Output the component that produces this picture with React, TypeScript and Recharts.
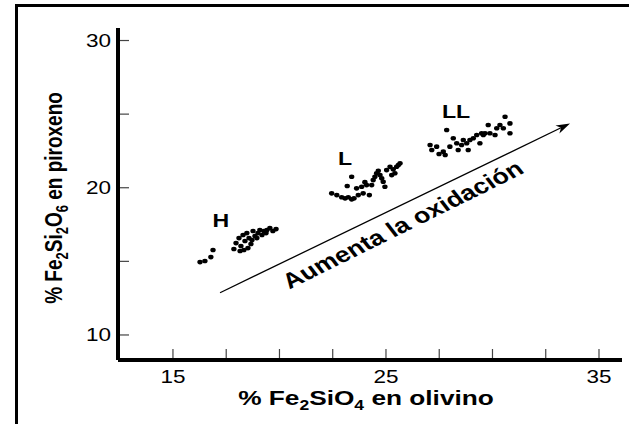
import React from 'react';
import { ScatterChart, Scatter, XAxis, YAxis, ReferenceLine } from 'recharts';

const xTicks = [15, 17.5, 20, 22.5, 25, 27.5, 30, 32.5, 35];
const xTickLabels = ['15', '', '', '', '25', '', '', '', '35'];
const yTicks = [10, 15, 20, 25, 30];
const yTickLabels = ['10', '', '20', '', '30'];

const hGroup = [
  { x: 16.27, y: 14.95 }, { x: 16.5, y: 15.02 }, { x: 16.78, y: 15.29 }, { x: 16.88, y: 15.77 },
  { x: 17.86, y: 15.84 }, { x: 17.96, y: 16.24 }, { x: 18.1, y: 16.58 }, { x: 18.19, y: 16.04 },
  { x: 18.29, y: 16.79 }, { x: 18.38, y: 16.38 }, { x: 18.47, y: 16.92 }, { x: 18.57, y: 16.58 },
  { x: 18.66, y: 16.18 }, { x: 18.76, y: 17.06 }, { x: 18.85, y: 16.72 }, { x: 18.99, y: 16.92 },
  { x: 19.08, y: 17.13 }, { x: 19.18, y: 16.79 }, { x: 19.27, y: 17.06 }, { x: 19.41, y: 17.13 },
  { x: 19.55, y: 17.26 }, { x: 19.69, y: 17.06 }, { x: 19.84, y: 17.19 }, { x: 18.52, y: 15.9 },
  { x: 18.15, y: 15.7 }, { x: 18.33, y: 15.77 }, { x: 18.71, y: 16.45 }, { x: 18.94, y: 16.58 },
  { x: 19.37, y: 16.92 },
];

const lGroup = [
  { x: 22.45, y: 19.62 }, { x: 22.69, y: 19.5 }, { x: 22.92, y: 19.35 }, { x: 23.08, y: 19.28 },
  { x: 23.23, y: 19.35 }, { x: 23.39, y: 19.21 }, { x: 23.5, y: 19.28 }, { x: 23.7, y: 19.5 },
  { x: 23.93, y: 19.62 }, { x: 24.22, y: 19.5 }, { x: 23.18, y: 20.12 }, { x: 23.39, y: 20.75 },
  { x: 23.62, y: 19.96 }, { x: 23.86, y: 20.07 }, { x: 24.09, y: 20.18 }, { x: 24.33, y: 20.18 },
  { x: 24.4, y: 20.52 }, { x: 24.48, y: 20.75 }, { x: 24.56, y: 20.98 }, { x: 24.64, y: 21.15 },
  { x: 24.72, y: 20.86 }, { x: 24.8, y: 20.64 }, { x: 24.87, y: 20.41 }, { x: 24.95, y: 20.07 },
  { x: 25.03, y: 21.2 }, { x: 25.19, y: 21.43 }, { x: 25.34, y: 21.25 }, { x: 25.5, y: 21.43 },
  { x: 25.58, y: 21.54 }, { x: 25.66, y: 21.66 }, { x: 25.42, y: 20.98 }, { x: 25.27, y: 20.86 },
  { x: 24.01, y: 20.38 },
];

const llGroup = [
  { x: 27.07, y: 22.9 }, { x: 27.15, y: 22.56 }, { x: 27.38, y: 22.79 }, { x: 27.49, y: 22.29 },
  { x: 27.69, y: 22.45 }, { x: 27.85, y: 23.92 }, { x: 28.0, y: 22.79 }, { x: 28.16, y: 23.36 },
  { x: 28.32, y: 23.02 }, { x: 28.39, y: 22.56 }, { x: 28.55, y: 22.9 }, { x: 28.63, y: 23.24 },
  { x: 28.79, y: 23.02 }, { x: 28.86, y: 22.56 }, { x: 28.94, y: 23.24 }, { x: 29.1, y: 23.36 },
  { x: 29.26, y: 23.58 }, { x: 29.41, y: 23.02 }, { x: 29.49, y: 23.7 }, { x: 29.57, y: 23.58 },
  { x: 29.65, y: 23.7 }, { x: 29.8, y: 24.26 }, { x: 29.88, y: 23.7 }, { x: 30.12, y: 23.58 },
  { x: 30.2, y: 24.04 }, { x: 30.35, y: 24.26 }, { x: 30.51, y: 24.04 }, { x: 30.59, y: 24.82 },
  { x: 30.82, y: 24.37 }, { x: 30.82, y: 23.7 }, { x: 27.78, y: 22.22 },
];

const groupNames = ['H', 'L', 'LL'];
const groupLabelX = [17.25, 23.08, 28.29];
const groupLabelY = [17.33, 21.54, 24.73];

const arrowStart = { x: 17.21, y: 12.87 };
const arrowEnd = { x: 33.64, y: 24.37 };
const arrowText = 'Aumenta la oxidación';
const arrowTextX = [26.01];
const arrowTextY = [17.07];

const FONT = '"Liberation Sans", Arial, Helvetica, sans-serif';
const SX = 1.25;

const groupLabelData = groupNames.map((name, i) => ({ x: groupLabelX[i], y: groupLabelY[i], name }));
const arrowTextData = arrowTextX.map((x, i) => ({ x, y: arrowTextY[i], name: arrowText }));

const Dot = (p: any) => <ellipse cx={p.cx} cy={p.cy} rx={2.7} ry={2.3} fill="#000" />;

const GroupLabel = (p: any) => (
  <g transform={`translate(${p.cx},${p.cy}) scale(${SX},1)`}>
    <text x={0} y={0} textAnchor="middle" fontFamily={FONT} fontWeight="bold" fontSize={18.5} fill="#000">
      {p.payload.name}
    </text>
  </g>
);

const ArrowLabel = (p: any) => (
  <g transform={`translate(${p.cx},${p.cy}) scale(${SX},1) rotate(-31.8)`}>
    <text x={0} y={0} textAnchor="middle" fontFamily={FONT} fontWeight="bold" fontSize={21.5} fill="#000">
      {p.payload.name}
    </text>
  </g>
);

const ArrowShape = (p: any) => {
  const { x1, y1, x2, y2 } = p;
  const dx = x2 - x1;
  const dy = y2 - y1;
  const len = Math.hypot(dx, dy) || 1;
  const ux = dx / len;
  const uy = dy / len;
  const L = 14;
  const W = 4.5;
  const bx = x2 - ux * L;
  const by = y2 - uy * L;
  const nx = bx + ux * 4;
  const ny = by + uy * 4;
  const pts = `${x2},${y2} ${bx - uy * W},${by + ux * W} ${nx},${ny} ${bx + uy * W},${by - ux * W}`;
  return (
    <g>
      <line x1={x1} y1={y1} x2={nx} y2={ny} stroke="#000" strokeWidth={1.3} />
      <polygon points={pts} fill="#000" />
    </g>
  );
};

const XTick = (p: any) => {
  const label = xTickLabels[p.index] ?? '';
  return (
    <g>
      <line x1={p.x} y1={p.y - 2} x2={p.x} y2={p.y - 11} stroke="#444" strokeWidth={1.2} />
      {label !== '' && (
        <g transform={`translate(${p.x},${p.y + 23}) scale(${SX},1)`}>
          <text x={0} y={0} textAnchor="middle" fontFamily={FONT} fontSize={18} fill="#000">
            {label}
          </text>
        </g>
      )}
    </g>
  );
};

const YTick = (p: any) => {
  const label = yTickLabels[p.index] ?? '';
  return (
    <g>
      <line x1={p.x + 2} y1={p.y} x2={p.x + 11} y2={p.y} stroke="#444" strokeWidth={1.2} />
      {label !== '' && (
        <g transform={`translate(${p.x - 7},${p.y + 6.5}) scale(${SX},1)`}>
          <text x={0} y={0} textAnchor="end" fontFamily={FONT} fontSize={18} fill="#000">
            {label}
          </text>
        </g>
      )}
    </g>
  );
};

const XTitle = (p: any) => {
  const vb = p.viewBox;
  const cx = vb.x + vb.width / 2 - 4;
  const cy = vb.y + 45;
  return (
    <g transform={`translate(${cx},${cy}) scale(${SX},1)`}>
      <text x={0} y={0} textAnchor="middle" fontFamily={FONT} fontWeight="bold" fontSize={21} fill="#000">
        % Fe<tspan dy={5} fontSize={14}>2</tspan>
        <tspan dy={-5}>SiO</tspan>
        <tspan dy={5} fontSize={14}>4</tspan>
        <tspan dy={-5}> en olivino</tspan>
      </text>
    </g>
  );
};

const YTitle = (p: any) => {
  const vb = p.viewBox;
  const cx = 62;
  const cy = vb.y + vb.height / 2 + 4;
  return (
    <g transform={`translate(${cx},${cy}) scale(${SX},1) rotate(-90)`}>
      <text x={0} y={0} textAnchor="middle" fontFamily={FONT} fontWeight="bold" fontSize={19} fill="#000">
        % Fe<tspan dy={4.5} fontSize={13}>2</tspan>
        <tspan dy={-4.5}>Si</tspan>
        <tspan dy={4.5} fontSize={13}>2</tspan>
        <tspan dy={-4.5}>O</tspan>
        <tspan dy={4.5} fontSize={13}>6</tspan>
        <tspan dy={-4.5}> en piroxeno</tspan>
      </text>
    </g>
  );
};

export default function App() {
  return (
    <div style={{ position: 'absolute', left: 0, top: 0, width: 629, height: 424, background: '#fff', overflow: 'hidden' }}>
      <div
        style={{
          position: 'absolute',
          left: 15,
          top: 4,
          width: 629,
          height: 424,
          borderTop: '3px solid #000',
          borderLeft: '3px solid #000',
          boxSizing: 'border-box',
        }}
      />
      <div style={{ position: 'absolute', left: 0, top: 0 }}>
        <ScatterChart width={629} height={424} margin={{ top: 28, right: 7, bottom: 0, left: 0 }}>
          <XAxis
            dataKey="x"
            type="number"
            domain={[12.42, 36.08]}
            allowDataOverflow
            ticks={xTicks}
            interval={0}
            tickSize={0}
            tickMargin={0}
            tickLine={false}
            tick={XTick}
            axisLine={{ stroke: '#000', strokeWidth: 4 }}
            height={64}
            label={{ content: XTitle }}
          />
          <YAxis
            dataKey="y"
            type="number"
            domain={[8.3, 30.85]}
            allowDataOverflow
            ticks={yTicks}
            interval={0}
            tickSize={0}
            tickMargin={0}
            tickLine={false}
            tick={YTick}
            axisLine={{ stroke: '#000', strokeWidth: 4 }}
            width={118}
            label={{ content: YTitle }}
          />
          <ReferenceLine segment={[arrowStart, arrowEnd]} shape={ArrowShape} ifOverflow="visible" />
          <Scatter data={hGroup} shape={Dot} isAnimationActive={false} />
          <Scatter data={lGroup} shape={Dot} isAnimationActive={false} />
          <Scatter data={llGroup} shape={Dot} isAnimationActive={false} />
          <Scatter data={groupLabelData} shape={GroupLabel} isAnimationActive={false} />
          <Scatter data={arrowTextData} shape={ArrowLabel} isAnimationActive={false} />
        </ScatterChart>
      </div>
    </div>
  );
}
